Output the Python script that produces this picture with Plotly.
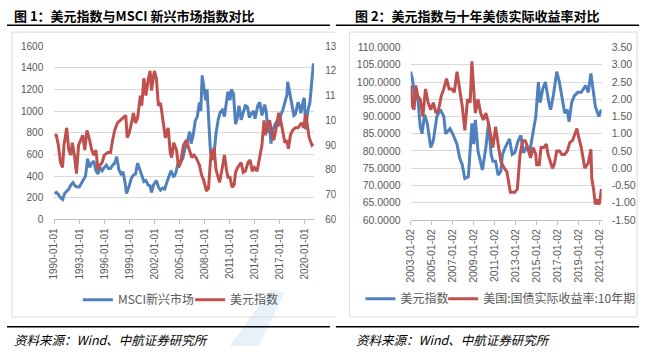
import plotly.graph_objects as go

# ---------------- data ----------------
msci_dates = ["1990-01","1990-04","1990-07","1990-10","1991-01","1991-04","1991-07","1991-10",
 "1992-01","1992-04","1992-07","1992-10","1993-01","1993-04","1993-07","1993-10",
 "1994-01","1994-04","1994-07","1994-10","1995-01","1995-04","1995-07","1995-10",
 "1996-01","1996-04","1996-07","1996-10","1997-01","1997-04","1997-07","1997-10",
 "1998-01","1998-04","1998-07","1998-09","1998-12","1999-04","1999-07","1999-10",
 "2000-01","2000-04","2000-07","2000-10","2001-01","2001-04","2001-07","2001-09","2001-12",
 "2002-04","2002-07","2002-10","2003-01","2003-04","2003-07","2003-10",
 "2004-01","2004-05","2004-08","2004-12","2005-03","2005-06","2005-09","2005-12",
 "2006-04","2006-06","2006-09","2006-12","2007-03","2007-06","2007-08","2007-10","2007-12",
 "2008-03","2008-05","2008-07","2008-09","2008-10","2008-12","2009-03","2009-06","2009-09","2009-12",
 "2010-03","2010-06","2010-09","2010-11","2011-02","2011-04","2011-07","2011-10","2011-12",
 "2012-03","2012-06","2012-09","2012-12","2013-03","2013-06","2013-09","2013-12",
 "2014-02","2014-06","2014-09","2014-12","2015-04","2015-06","2015-09","2015-11",
 "2016-01","2016-04","2016-07","2016-10","2016-12","2017-03","2017-06","2017-09","2017-12",
 "2018-01","2018-04","2018-07","2018-10","2018-12","2019-04","2019-06","2019-08","2019-12",
 "2020-01","2020-03","2020-06","2020-09","2020-12","2021-02"]
msci_vals = [240,250,230,200,185,240,260,280,
 320,340,310,300,300,330,360,400,
 560,480,520,540,450,420,480,450,
 480,500,470,470,500,520,580,460,
 420,440,340,240,290,380,410,420,
 520,460,420,350,360,320,310,250,320,
 360,300,270,290,280,340,400,
 450,390,430,540,530,560,650,700,
 810,700,780,910,950,1080,1000,1330,1250,
 1100,1200,1000,800,610,640,600,800,920,990,
 1010,950,1090,1180,1100,1200,1160,880,920,
 1050,920,1000,1050,1040,940,980,1000,
 930,1050,1080,960,1060,1000,800,850,
 700,830,880,910,860,960,1010,1080,1150,
 1270,1170,1080,960,970,1080,1050,980,1110,
 1120,830,1000,1080,1290,1440]

dxy1_dates = ["1990-01","1990-04","1990-07","1990-10","1991-01","1991-03","1991-07","1991-10",
 "1992-01","1992-03","1992-06","1992-09","1992-12","1993-03","1993-06","1993-09","1993-12",
 "1994-04","1994-07","1994-10","1995-01","1995-04","1995-07","1995-10",
 "1996-01","1996-06","1996-10","1997-01","1997-04","1997-08","1997-12",
 "1998-03","1998-08","1998-10","1999-01","1999-05","1999-07","1999-10",
 "2000-01","2000-05","2000-07","2000-10","2001-01","2001-04","2001-07","2001-09",
 "2002-01","2002-04","2002-07","2002-10","2003-01","2003-05","2003-09","2003-12",
 "2004-02","2004-05","2004-09","2004-12","2005-03","2005-07","2005-11",
 "2006-04","2006-07","2006-10","2007-01","2007-06","2007-09","2007-12",
 "2008-04","2008-07","2008-11","2009-01","2009-03","2009-06","2009-11",
 "2010-03","2010-06","2010-09","2010-11","2011-02","2011-05","2011-08","2011-10",
 "2012-01","2012-06","2012-09","2012-12","2013-04","2013-07","2013-10",
 "2014-01","2014-05","2014-09","2014-12","2015-03","2015-05","2015-08","2015-11",
 "2016-03","2016-05","2016-08","2016-12","2017-03","2017-06","2017-09","2017-12",
 "2018-02","2018-05","2018-08","2018-12","2019-04","2019-09","2019-12",
 "2020-03","2020-05","2020-08","2020-12","2021-02"]
dxy1_vals = [94,94,90,83,81,90,97,88,
 86,91,86,78.5,90,92,94,88,96,
 92,88,86,88,80,82,83,
 86,87,87,92,96,99,100,
 101,102,93,95,100,103,99,
 101,110,106,117,110,116,120,112,
 120,117,106,107,100,93,97,87,
 85,91,88,81,83,90,92,
 87,85,86,85,82,78,76,
 71.5,72.5,88,84,89,80,75,
 81,86,80,77,77,73,74,79,
 81,83,79,79.5,83,84,79.5,
 81,79.5,85,90,100,94,98,100,
 94,92,96,103,100,96,91,92,
 88.5,94,96,97,97,99,97,
 102.5,99,93,90,90.5]

dxy2_dates = ["2003-01","2003-03","2003-06","2003-09","2003-12","2004-02","2004-05","2004-08","2004-12",
 "2005-03","2005-07","2005-11","2006-03","2006-05","2006-10","2007-01","2007-06","2007-09","2007-12",
 "2008-03","2008-07","2008-11","2009-01","2009-03","2009-06","2009-11",
 "2010-03","2010-06","2010-09","2010-11","2011-02","2011-05","2011-08","2011-10",
 "2012-01","2012-06","2012-09","2012-12","2013-04","2013-07","2013-10",
 "2014-01","2014-05","2014-09","2014-12","2015-03","2015-05","2015-08","2015-11",
 "2016-03","2016-05","2016-08","2016-12","2017-03","2017-06","2017-09","2017-12",
 "2018-02","2018-05","2018-08","2018-12","2019-04","2019-09","2019-12",
 "2020-03","2020-05","2020-08","2020-12","2021-03"]
dxy2_vals = [103,101,95,96,87,85,90.5,88,81,
 83,90,92,90,85,86.5,85,82,78,76,
 72,72.5,88,82,89,80,74.5,
 81,88,79,77,77,73,74,79,
 81,83.5,79,79.5,83,84.5,79.5,
 81,79.5,85,90,100,94,98,100,
 94,92,96,103,100,96,91,92,
 88.5,94,96,97,97,99,97,
 102.5,99,93,90,92]

ry_dates = ["2003-01","2003-02","2003-03","2003-05","2003-07","2003-09","2003-12",
 "2004-03","2004-06","2004-09","2004-12","2005-03","2005-06","2005-09","2005-12",
 "2006-03","2006-06","2006-09","2006-12","2007-03","2007-06","2007-09","2007-12",
 "2008-03","2008-06","2008-09","2008-11","2009-01","2009-03","2009-06","2009-09","2009-12",
 "2010-03","2010-06","2010-09","2010-11","2011-02","2011-04","2011-08","2011-12",
 "2012-03","2012-07","2012-10","2012-12","2013-03","2013-06","2013-09","2013-12",
 "2014-03","2014-06","2014-09","2014-12","2015-01","2015-04","2015-06","2015-09","2015-12",
 "2016-02","2016-07","2016-09","2016-12","2017-03","2017-06","2017-09","2017-12",
 "2018-03","2018-06","2018-11","2019-01","2019-04","2019-08","2019-12",
 "2020-03","2020-04","2020-06","2020-08","2020-10","2020-12","2021-01","2021-02","2021-03"]
ry_vals = [2.4,2.0,1.8,1.7,2.4,2.1,2.0,
 1.5,2.3,1.9,1.7,1.9,1.6,1.7,2.1,
 2.3,2.6,2.3,2.3,2.2,2.8,2.3,1.8,
 1.1,2.0,1.9,3.1,2.3,1.6,2.0,1.6,1.4,
 1.6,1.3,0.9,0.6,1.2,0.9,0.2,0.0,
 -0.1,-0.7,-0.7,-0.7,-0.6,0.4,0.8,0.8,
 0.6,0.3,0.6,0.4,0.1,0.1,0.6,0.6,0.7,
 0.4,0.0,0.1,0.5,0.5,0.4,0.4,0.5,
 0.75,0.8,1.15,0.9,0.6,0.0,0.15,
 0.55,-0.3,-0.6,-1.05,-0.9,-1.05,-1.0,-0.8,-0.6]

x1_ticks = ["1990-01-01","1993-01-01","1996-01-01","1999-01-01","2002-01-01","2005-01-01",
            "2008-01-01","2011-01-01","2014-01-01","2017-01-01","2020-01-01"]
x2_ticks = ["2003-01-02","2005-01-02","2007-01-02","2009-01-02","2011-01-02","2013-01-02",
            "2015-01-02","2017-01-02","2019-01-02","2021-01-02"]
y1_ticks = [0,200,400,600,800,1000,1200,1400,1600]
y2_ticks = [60,70,80,90,100,110,120,130]
y3_ticks = [60,65,70,75,80,85,90,95,100,105,110]
y4_ticks = [-1.5,-1.0,-0.5,0.0,0.5,1.0,1.5,2.0,2.5,3.0,3.5]

# ---------------- styling ----------------
W, H = 646, 352
def px(x): return x / W
def py(y): return 1 - y / H

BLUE = "#4F81BD"
RED = "#C0504D"
GRID = "#d9d9d9"
TXT = "#595959"
CJK = "Noto Sans CJK SC"
NUM = "Liberation Sans"

fig = go.Figure()
fig.add_trace(go.Scatter(x=msci_dates, y=msci_vals, xaxis="x", yaxis="y", mode="lines",
                         line=dict(color=BLUE, width=3), name="MSCI新兴市场", legend="legend"))
fig.add_trace(go.Scatter(x=dxy1_dates, y=dxy1_vals, xaxis="x", yaxis="y2", mode="lines",
                         line=dict(color=RED, width=3), name="美元指数", legend="legend2"))
fig.add_trace(go.Scatter(x=dxy2_dates, y=dxy2_vals, xaxis="x2", yaxis="y3", mode="lines",
                         line=dict(color=BLUE, width=3), name="美元指数", legend="legend3"))
fig.add_trace(go.Scatter(x=ry_dates, y=ry_vals, xaxis="x2", yaxis="y4", mode="lines",
                         line=dict(color=RED, width=3), name="美国:国债实际收益率:10年期", legend="legend4"))

xcommon = dict(type="date", tickangle=-90, showline=True, linecolor="#bfbfbf", linewidth=1,
               ticks="outside", ticklen=4, tickcolor="#bfbfbf", showgrid=False, zeroline=False,
               fixedrange=True)

def leg(x, y):
    return dict(x=px(x), y=py(y), xanchor="left", yanchor="middle", orientation="h",
                font=dict(family=CJK, size=12, color=TXT), bgcolor="rgba(0,0,0,0)",
                borderwidth=0, itemwidth=30)

def hline(x0, x1, y, color="black", width=1.5):
    return dict(type="line", xref="paper", yref="paper", x0=px(x0), x1=px(x1),
                y0=py(y), y1=py(y), line=dict(color=color, width=width))

box1 = "M {a},{b} L {c},{b} L {c},{d} L {a},{d}".format(a=px(334), b=py(27), c=px(5), d=py(322))
wm = "M {a},{b} L {c},{b} L {e},{f} L {g},{h} Z".format(
    a=px(226), b=py(352), c=px(256), e=px(282), f=py(296), g=px(268), h=py(294))

fig.update_layout(
    width=W, height=H, autosize=False,
    margin=dict(l=0, r=0, t=0, b=0),
    paper_bgcolor="white", plot_bgcolor="rgba(0,0,0,0)",
    showlegend=True,
    xaxis=dict(xcommon, domain=[px(48), px(312)], anchor="y",
               range=["1990-01-01", "2021-03-07"], tickvals=x1_ticks, ticktext=x1_ticks,
               tickfont=dict(family=NUM, size=10, color=TXT)),
    yaxis=dict(domain=[py(221), py(41.5)], anchor="x", range=[0, 1600], tickvals=y1_ticks,
               gridcolor=GRID, gridwidth=1, zeroline=False, showline=False, ticks="",
               ticklabelstandoff=10, tickfont=dict(family=NUM, size=10, color=TXT), fixedrange=True),
    yaxis2=dict(overlaying="y", side="right", anchor="x", range=[60, 130], tickvals=y2_ticks,
                showgrid=False, zeroline=False, showline=False, ticks="",
                ticklabelstandoff=10, tickfont=dict(family=NUM, size=10, color=TXT), fixedrange=True),
    xaxis2=dict(xcommon, domain=[px(410), px(604)], anchor="y3",
                range=["2003-01-02", "2021-03-10"], tickvals=x2_ticks, ticktext=x2_ticks,
                tickfont=dict(family=NUM, size=10.5, color=TXT)),
    yaxis3=dict(domain=[py(221.5), py(43)], anchor="x2", range=[60, 110], tickvals=y3_ticks,
                ticktext=["%.4f" % v for v in y3_ticks],
                gridcolor=GRID, gridwidth=1, zeroline=False, showline=False, ticks="",
                ticklabelstandoff=9, tickfont=dict(family=NUM, size=10.5, color=TXT), fixedrange=True),
    yaxis4=dict(overlaying="y3", side="right", anchor="x2", range=[-1.5, 3.5], tickvals=y4_ticks,
                ticktext=["%.2f" % v for v in y4_ticks],
                showgrid=False, zeroline=False, showline=False, ticks="",
                ticklabelstandoff=9, tickfont=dict(family=NUM, size=10.5, color=TXT), fixedrange=True),
    legend=leg(72, 304),
    legend2=leg(186, 304),
    legend3=leg(359, 303),
    legend4=leg(443, 303),
    shapes=[
        dict(type="path", xref="paper", yref="paper", path=wm, fillcolor="rgba(189,215,238,0.35)",
             line=dict(width=0), layer="below"),
        hline(0, 328, 20), hline(334, 642, 20),
        dict(type="path", xref="paper", yref="paper", path=box1, line=dict(color=GRID, width=1)),
        dict(type="rect", xref="paper", yref="paper", x0=px(334), x1=px(347), y0=py(326), y1=py(24),
             fillcolor="white", line=dict(width=0), layer="above"),
        dict(type="rect", xref="paper", yref="paper", x0=px(348), x1=px(640), y0=py(322), y1=py(27),
             line=dict(color=GRID, width=1)),
        hline(0, 328, 332), hline(334, 642, 332),
    ],
    annotations=[
        dict(text="<b>图 1：美元指数与MSCI 新兴市场指数对比</b>", xref="paper", yref="paper",
             x=px(5), y=py(10), xanchor="left", yanchor="middle", showarrow=False,
             font=dict(family=CJK, size=13, color="black")),
        dict(text="<b>图 2：美元指数与十年美债实际收益率对比</b>", xref="paper", yref="paper",
             x=px(351), y=py(10), xanchor="left", yanchor="middle", showarrow=False,
             font=dict(family=CJK, size=13, color="black")),
        dict(text="<i>资料来源：Wind、中航证券研究所</i>", xref="paper", yref="paper",
             x=px(5), y=py(345), xanchor="left", yanchor="middle", showarrow=False,
             font=dict(family=CJK, size=12.5, color="black")),
        dict(text="<i>资料来源：Wind、中航证券研究所</i>", xref="paper", yref="paper",
             x=px(352), y=py(345), xanchor="left", yanchor="middle", showarrow=False,
             font=dict(family=CJK, size=12.5, color="black")),
    ],
)

fig.write_html("out.html")
